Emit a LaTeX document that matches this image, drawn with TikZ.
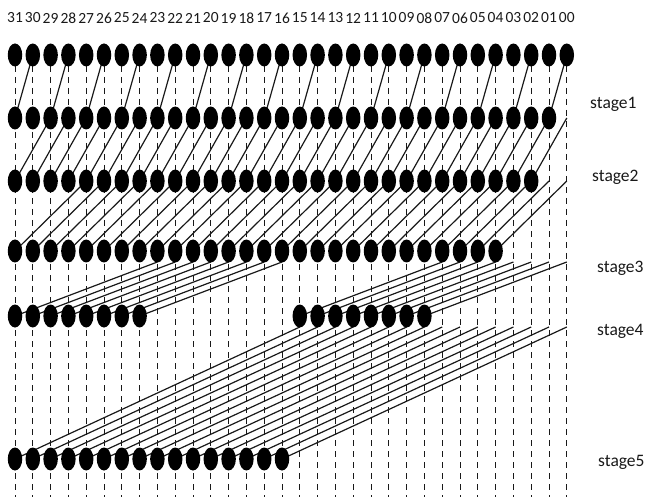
\documentclass[tikz,border=0pt]{standalone}
\usepackage{fontspec}
\setmainfont{Carlito}
\usetikzlibrary{shapes.geometric}
\begin{document}
\begin{tikzpicture}[x=1pt,y=-1pt,
  dot/.style={ellipse, fill=black, draw=none, minimum width=14.5pt, minimum height=23pt, inner sep=0pt},
  link/.style={line width=1.2pt, black!90},
  guide/.style={line width=1pt, dash pattern=on 6pt off 5pt, black!90},
  bitlabel/.style={font=\fontsize{15.5}{18}\selectfont, inner sep=0pt, text=black!90},
  stagelabel/.style={font=\fontsize{17.5}{20}\selectfont, anchor=west, inner sep=0pt, text=black!90}]
\useasboundingbox (0,0) rectangle (648,497);
% coordinates, guides and bit labels
\foreach \c in {0,...,31} {
  \pgfmathsetmacro\xx{15+(31-\c)*17.8}
  \foreach \r/\yy in {0/55,1/118,2/181,3/251,4/316,5/459} {
    \coordinate (p-\r-\c) at (\xx,\yy);
  }
  \coordinate (q-3-\c) at (\xx,262);
  \coordinate (q-4-\c) at (\xx,327);
  \coordinate (bot-\c) at (\xx,497);
  \draw[guide] (p-0-\c) -- (bot-\c);
  \node[bitlabel] (lab-\c) at (\xx,18) {\ifnum\c<10 0\fi\c};
}
% stage 1
\foreach \j in {1,3,...,31} {
  \pgfmathtruncatemacro\i{\j-1}
  \draw[link] (p-0-\i) -- (p-1-\j);
}
% stage 2
\foreach \j in {2,...,31} {
  \pgfmathtruncatemacro\i{\j-2}
  \draw[link] (p-1-\i) -- (p-2-\j);
}
% stage 3
\foreach \j in {4,...,31} {
  \pgfmathtruncatemacro\i{\j-4}
  \draw[link] (p-2-\i) -- (p-3-\j);
}
% stage 4
\foreach \j in {8,...,15,24,25,...,31} {
  \pgfmathtruncatemacro\i{\j-8}
  \draw[link] (q-3-\i) -- (p-4-\j);
}
% stage 5
\foreach \j in {16,...,31} {
  \pgfmathtruncatemacro\i{\j-16}
  \draw[link] (q-4-\i) -- (p-5-\j);
}
% dots
\foreach \c in {0,...,31} { \node[dot] (d-0-\c) at (p-0-\c) {}; }
\foreach \c in {1,...,31} { \node[dot] (d-1-\c) at (p-1-\c) {}; }
\foreach \c in {2,...,31} { \node[dot] (d-2-\c) at (p-2-\c) {}; }
\foreach \c in {4,...,31} { \node[dot] (d-3-\c) at (p-3-\c) {}; }
\foreach \c in {8,...,15,24,25,...,31} { \node[dot] (d-4-\c) at (p-4-\c) {}; }
\foreach \c in {16,...,31} { \node[dot] (d-5-\c) at (p-5-\c) {}; }
% stage labels
\node[stagelabel] (s1) at (590,104) {stage1};
\node[stagelabel] (s2) at (592,177) {stage2};
\node[stagelabel] (s3) at (597,268) {stage3};
\node[stagelabel] (s4) at (597,331) {stage4};
\node[stagelabel] (s5) at (598,462) {stage5};
\end{tikzpicture}
\end{document}
